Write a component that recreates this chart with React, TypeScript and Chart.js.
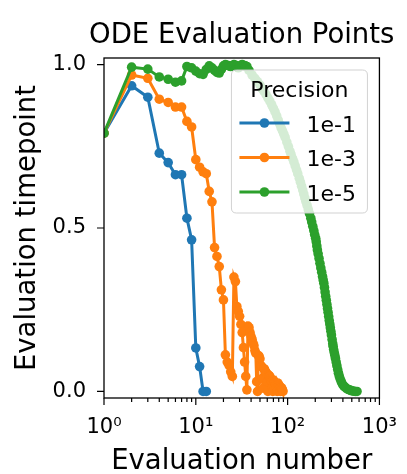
import React, { useEffect, useRef } from 'react';
import { Chart, registerables } from 'chart.js';

Chart.register(...registerables);

const FONT = "'DejaVu Sans', 'Liberation Sans', sans-serif";

const TITLE = 'ODE Evaluation Points';
const X_TITLE = 'Evaluation number';
const Y_TITLE = 'Evaluation timepoint';
const LEGEND_TITLE = 'Precision';
const SERIES_LABELS = ['1e-1', '1e-3', '1e-5'];
const COLORS = ['#1f77b4', '#ff7f0e', '#2ca02c'];

const X_TICKS = [1, 10, 100, 1000];
const X_TICK_LABELS = ['10⁰', '10¹', '10²', '10³'];
const X_MINOR = [2, 3, 4, 5, 6, 7, 8, 9];
const Y_TICKS = [0, 0.5, 1];
const Y_TICK_LABELS = ['0.0', '0.5', '1.0'];

// Precision 1e-1
const blueX = [1, 2, 3, 4, 5, 6, 7, 8, 9, 10, 11, 12, 13];
const blueY = [0.79, 0.935, 0.9, 0.729, 0.7, 0.663, 0.663, 0.53, 0.464, 0.133, 0.076, 0.0, 0.0];

// Precision 1e-3
const orangeX = [
  1, 2, 3, 4, 5, 6, 7, 8, 9, 10, 11, 12, 13, 14, 15, 16, 17, 18, 19, 20,
  21, 22, 23, 24, 25, 26, 27, 28, 29, 30, 31, 32, 33, 34, 35, 36, 37, 38, 39, 40,
  41, 42, 43, 44, 45, 46, 47, 48, 49, 50, 51, 52, 53, 54, 55, 56, 57, 58, 59, 60,
  61, 62, 63, 64, 65, 66, 67, 68, 69, 70, 71, 72, 73, 74, 75, 76, 77, 78, 79, 80,
  81, 82, 83, 84, 85, 86, 87, 88, 89,
];
const orangeY = [
  0.79, 0.968, 0.958, 0.894, 0.884, 0.87, 0.87, 0.826, 0.809, 0.709,
  0.686, 0.672, 0.666, 0.612, 0.58, 0.44, 0.413, 0.382, 0.311, 0.28,
  0.112, 0.09, 0.08, 0.06, 0.046, 0.35, 0.336, 0.26, 0.245, 0.23,
  0.205, 0.18, 0.134, 0.09, 0.046, 0.005, 0.2, 0.195, 0.18, 0.168,
  0.16, 0.148, 0.14, 0.125, 0.117, 0.03, 0.0, 0.11, 0.107, 0.1,
  0.08, 0.076, 0.04, 0.01, 0.07, 0.068, 0.062, 0.058, 0.056, 0.03,
  0.0, 0.05, 0.048, 0.046, 0.04, 0.035, 0.03, 0.01, 0.0, 0.035,
  0.03, 0.028, 0.026, 0.024, 0.02, 0.01, 0.0, 0.026, 0.022, 0.02,
  0.017, 0.014, 0.01, 0.0, 0.012, 0.01, 0.007, 0.004, 0.0,
];

// Precision 1e-5
const greenX = [
  1, 2, 3, 4, 5, 6, 7, 8, 9, 10, 11, 12, 13, 14, 15, 16, 17, 18, 19, 20,
  21, 22, 23, 24, 25, 26, 27, 28, 29, 30, 31, 32, 33, 34, 35, 36,
  38, 41, 44, 47, 50, 52, 55, 58, 61, 64, 67, 70, 73, 76, 79, 82, 85, 88, 91, 94,
  98, 102, 106, 109, 113, 117, 121, 125, 129, 134, 138, 142, 146, 150, 154, 158,
  163, 168, 173, 179, 183, 188, 193, 197, 202, 205, 208, 211, 215, 220, 225, 230,
  235, 240, 244, 248, 252, 256, 260, 264, 268, 272, 276, 280, 284, 288, 292, 296,
  300, 305, 310, 313, 317, 322, 327, 332, 338, 344, 351, 358, 366, 375, 385, 396,
  408, 422, 440, 460, 480, 500, 520, 545, 570,
];
const greenY = [
  0.79, 0.992, 0.986, 0.962, 0.955, 0.946, 0.95, 0.994, 0.99, 0.98,
  0.972, 0.97, 0.985, 0.996, 0.99, 0.982, 0.976, 0.974, 0.985, 0.996,
  1.0, 0.998, 0.996, 0.994, 0.996, 1.0, 0.998, 0.994, 0.99, 0.994,
  0.998, 1.0, 0.998, 0.996, 0.995, 0.994,
  0.982, 0.968, 0.958, 0.948, 0.937, 0.928, 0.919, 0.909, 0.898, 0.888, 0.877, 0.866, 0.855, 0.843, 0.83, 0.818, 0.806, 0.797, 0.787, 0.777,
  0.763, 0.749, 0.735, 0.725, 0.713, 0.702, 0.69, 0.678, 0.666, 0.652, 0.64, 0.628, 0.616, 0.604, 0.592, 0.581,
  0.569, 0.556, 0.544, 0.53, 0.518, 0.505, 0.492, 0.48, 0.469, 0.458, 0.445, 0.433, 0.421, 0.407, 0.392, 0.378,
  0.365, 0.352, 0.341, 0.331, 0.318, 0.304, 0.291, 0.279, 0.266, 0.254, 0.242, 0.229, 0.217, 0.206, 0.195, 0.184,
  0.173, 0.159, 0.146, 0.138, 0.128, 0.119, 0.11, 0.101, 0.09, 0.079, 0.067, 0.056, 0.046, 0.037, 0.029, 0.022,
  0.017, 0.013, 0.009, 0.006, 0.004, 0.002, 0.001, 0.0, 0.0,
];

const LINE_W = 3;
const POINT_R = 4.8;

const decor = {
  id: 'decor',
  beforeDraw(chart: any) {
    const { ctx, width, height } = chart;
    ctx.save();
    ctx.fillStyle = '#ffffff';
    ctx.fillRect(0, 0, width, height);
    ctx.restore();
  },
  afterDatasetsDraw(chart: any) {
    const { ctx, chartArea: a, scales } = chart;
    const xs = scales.x;
    const ys = scales.y;
    ctx.save();

    // frame
    ctx.strokeStyle = '#000';
    ctx.lineWidth = 1.3;
    ctx.strokeRect(a.left, a.top, a.right - a.left, a.bottom - a.top);

    // x ticks (major + minor), y ticks
    ctx.lineWidth = 1.2;
    ctx.beginPath();
    X_TICKS.forEach((v, i) => {
      const px = xs.getPixelForValue(v);
      ctx.moveTo(px, a.bottom);
      ctx.lineTo(px, a.bottom + 7);
      if (i < X_TICKS.length - 1) {
        X_MINOR.forEach((m) => {
          const mx = xs.getPixelForValue(v * m);
          ctx.moveTo(mx, a.bottom);
          ctx.lineTo(mx, a.bottom + 4);
        });
      }
    });
    Y_TICKS.forEach((v) => {
      const py = ys.getPixelForValue(v);
      ctx.moveTo(a.left, py);
      ctx.lineTo(a.left - 7, py);
    });
    ctx.stroke();

    // legend
    const bw = 136;
    const bh = 143;
    const bx = a.right - 12 - bw;
    const by = a.top + 12;
    const r = 5;
    ctx.beginPath();
    ctx.moveTo(bx + r, by);
    ctx.lineTo(bx + bw - r, by);
    ctx.quadraticCurveTo(bx + bw, by, bx + bw, by + r);
    ctx.lineTo(bx + bw, by + bh - r);
    ctx.quadraticCurveTo(bx + bw, by + bh, bx + bw - r, by + bh);
    ctx.lineTo(bx + r, by + bh);
    ctx.quadraticCurveTo(bx, by + bh, bx, by + bh - r);
    ctx.lineTo(bx, by + r);
    ctx.quadraticCurveTo(bx, by, bx + r, by);
    ctx.closePath();
    ctx.fillStyle = 'rgba(255,255,255,0.8)';
    ctx.fill();
    ctx.strokeStyle = 'rgba(204,204,204,0.9)';
    ctx.lineWidth = 1;
    ctx.stroke();

    ctx.fillStyle = '#000';
    ctx.font = `22px ${FONT}`;
    ctx.textAlign = 'center';
    ctx.textBaseline = 'alphabetic';
    ctx.fillText(LEGEND_TITLE, bx + bw / 2, by + 27);

    SERIES_LABELS.forEach((lab, i) => {
      const cy = by + 53 + i * 34.5;
      ctx.strokeStyle = COLORS[i];
      ctx.lineWidth = LINE_W;
      ctx.beginPath();
      ctx.moveTo(bx + 8, cy);
      ctx.lineTo(bx + 58, cy);
      ctx.stroke();
      ctx.fillStyle = COLORS[i];
      ctx.beginPath();
      ctx.arc(bx + 33, cy, POINT_R, 0, Math.PI * 2);
      ctx.fill();
      ctx.fillStyle = '#000';
      ctx.textAlign = 'left';
      ctx.fillText(lab, bx + 75, cy + 8.5);
    });

    // titles
    const cx = (a.left + a.right) / 2;
    ctx.fillStyle = '#000';
    ctx.font = `27.5px ${FONT}`;
    ctx.textAlign = 'center';
    ctx.textBaseline = 'alphabetic';
    ctx.fillText(TITLE, cx, 43);
    ctx.fillText(X_TITLE, cx, 469);
    ctx.save();
    ctx.translate(35, (a.top + a.bottom) / 2);
    ctx.rotate(-Math.PI / 2);
    ctx.fillText(Y_TITLE, 0, 0);
    ctx.restore();

    ctx.restore();
  },
};

function makeData(xs: number[], ys: number[]) {
  return xs.map((x, i) => ({ x, y: ys[i] }));
}

export default function App() {
  const ref = useRef<HTMLCanvasElement | null>(null);

  useEffect(() => {
    document.body.style.margin = '0';
    const canvas = ref.current;
    if (!canvas) return;
    const series = [
      makeData(blueX, blueY),
      makeData(orangeX, orangeY),
      makeData(greenX, greenY),
    ];
    const chart = new Chart(canvas, {
      type: 'line',
      data: {
        datasets: series.map((d, i) => ({
          label: SERIES_LABELS[i],
          data: d,
          borderColor: COLORS[i],
          backgroundColor: COLORS[i],
          pointBackgroundColor: COLORS[i],
          pointBorderWidth: 0,
          pointRadius: POINT_R,
          borderWidth: LINE_W,
          tension: 0,
          fill: false,
          clip: 0,
          order: 3 - i,
        })),
      },
      options: {
        responsive: false,
        animation: false,
        devicePixelRatio: 1,
        layout: { padding: { top: 58, right: 22, left: 0, bottom: 0 } },
        plugins: {
          legend: { display: false },
          title: { display: false },
          tooltip: { enabled: false },
        },
        scales: {
          x: {
            type: 'logarithmic',
            min: 1,
            max: 1000,
            afterFit: (s: any) => {
              s.height = 76;
            },
            afterBuildTicks: (s: any) => {
              s.ticks = X_TICKS.map((v) => ({ value: v, major: true }));
            },
            ticks: {
              callback: (_v: any, i: number) => X_TICK_LABELS[i],
              font: { family: FONT, size: 21 },
              color: '#000',
              padding: 10,
              maxRotation: 0,
              autoSkip: false,
            },
            grid: {
              display: true,
              drawOnChartArea: false,
              drawTicks: true,
              tickLength: 7,
              color: 'rgba(0,0,0,0)',
            },
            border: { display: false },
          },
          y: {
            type: 'linear',
            min: -0.02,
            max: 1.02,
            afterFit: (s: any) => {
              s.width = 104;
            },
            afterBuildTicks: (s: any) => {
              s.ticks = Y_TICKS.map((v) => ({ value: v }));
            },
            ticks: {
              callback: (_v: any, i: number) => Y_TICK_LABELS[i],
              font: { family: FONT, size: 21 },
              color: '#000',
              padding: 11,
            },
            grid: {
              display: true,
              drawOnChartArea: false,
              drawTicks: true,
              tickLength: 7,
              color: 'rgba(0,0,0,0)',
            },
            border: { display: false },
          },
        },
      },
      plugins: [decor],
    } as any);
    return () => chart.destroy();
  }, []);

  return (
    <div style={{ width: 407, height: 474, position: 'relative' }}>
      <canvas ref={ref} width={407} height={474} style={{ width: 407, height: 474, display: 'block' }} />
    </div>
  );
}
